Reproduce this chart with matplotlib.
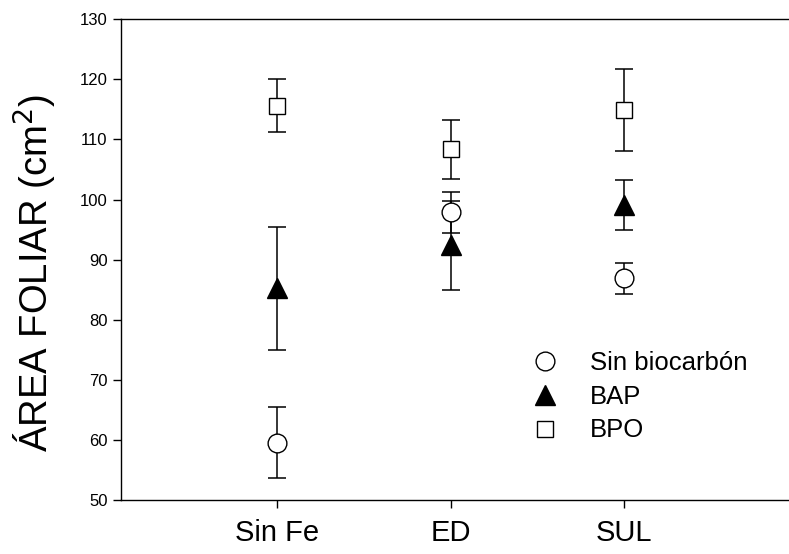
import matplotlib
matplotlib.use("Agg")
import matplotlib.pyplot as plt

plt.rcParams['font.family'] = ['Liberation Sans', 'DejaVu Sans']

# Tratamientos de hierro (eje X)
tratamientos = ['Sin Fe', 'ED', 'SUL']
posiciones = [1, 2, 3]

# Medias y errores (área foliar, cm2)
sin_biocarbon = [59.5, 97.9, 86.9]
sin_biocarbon_err = [5.9, 3.4, 2.6]
bap = [85.2, 92.4, 99.1]
bap_err = [10.2, 7.4, 4.2]
bpo = [115.6, 108.4, 114.9]
bpo_err = [4.4, 4.9, 6.9]

fig = plt.figure(figsize=(7.89, 5.54), dpi=100)
ax = fig.add_axes([0.153, 0.0975, 0.847, 0.8677])

series = [
    (sin_biocarbon, sin_biocarbon_err, 'o', 'white', 13.5, 'Sin biocarbón'),
    (bap, bap_err, '^', 'black', 14.5, 'BAP'),
    (bpo, bpo_err, 's', 'white', 12, 'BPO'),
]
for vals, errs, mk, fc, ms, lab in series:
    ax.errorbar(posiciones, vals, yerr=errs, fmt='none', ecolor='black',
                elinewidth=1.1, capsize=6.5, capthick=1.1, zorder=2)
    ax.plot(posiciones, vals, linestyle='none', marker=mk, markersize=ms,
            markerfacecolor=fc, markeredgecolor='black', markeredgewidth=1.0,
            label=lab, zorder=3)

ax.set_xlim(0.1, 3.95)
ax.set_ylim(50, 130)
ax.set_xticks(posiciones)
ax.set_xticklabels(tratamientos, fontsize=21)
ax.set_yticks(range(50, 131, 10))
ax.tick_params(axis='y', labelsize=12, direction='out', length=6, width=1)
ax.tick_params(axis='x', direction='out', length=6, width=1, pad=8)
ax.spines['right'].set_visible(False)
for s in ['left', 'top', 'bottom']:
    ax.spines[s].set_linewidth(1.0)

ax.set_ylabel('ÁREA FOLIAR (cm$^2$)', fontsize=27.5)
ax.yaxis.set_label_coords(-0.092, 0.472)

ax.legend(loc='upper left', bbox_to_anchor=(0.615, 0.31), frameon=False,
          fontsize=18.5, handlelength=1.0, handletextpad=1.25,
          labelspacing=0.38, borderaxespad=0, borderpad=0)

fig.savefig('out.png', dpi=100)
